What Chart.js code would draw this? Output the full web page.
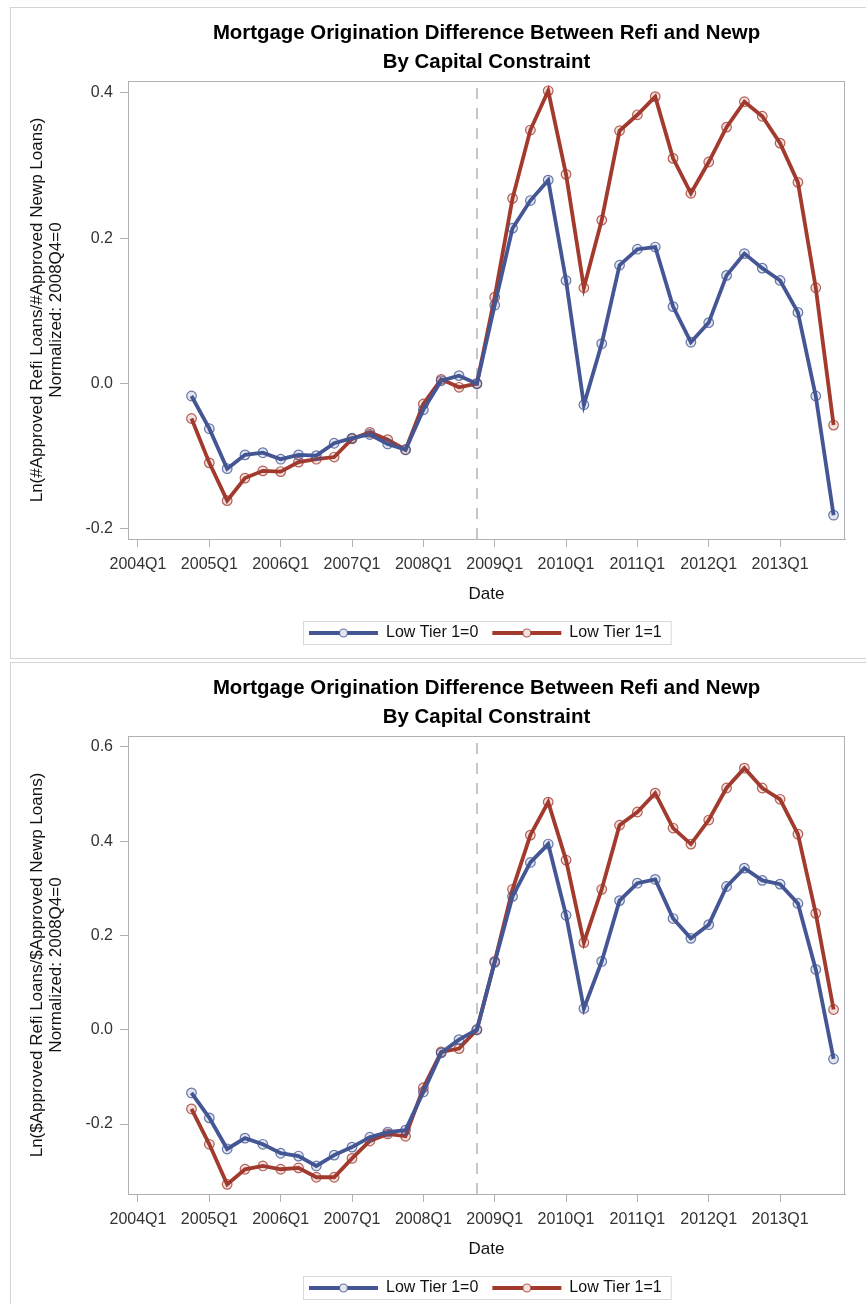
<!DOCTYPE html>
<html>
<head>
<meta charset="utf-8">
<title>Mortgage Origination Difference Between Refi and Newp</title>
<script src="https://cdn.jsdelivr.net/npm/chart.js@4.4.1/dist/chart.umd.min.js"></script>
<style>
  html, body { margin: 0; padding: 0; background: #fff; overflow: hidden; width: 866px; height: 1304px; }
  .panel { position: absolute; left: 10px; width: 880px; border: 1px solid #d4d4d4; box-sizing: border-box; }
  #p1 { top: 7px; height: 652px; }
  #p2 { top: 662px; height: 700px; }
  canvas { position: absolute; left: 0; }
  #c1 { top: 0; }
  #c2 { top: 655px; }
</style>
</head>
<body>
<div class="panel" id="p1"></div>
<div class="panel" id="p2"></div>
<canvas id="c1" width="866" height="658"></canvas>
<canvas id="c2" width="866" height="649"></canvas>
<script>
// ---- data -----------------------------------------------------------
const quarters = [
  '2004Q4',
  '2005Q1','2005Q2','2005Q3','2005Q4',
  '2006Q1','2006Q2','2006Q3','2006Q4',
  '2007Q1','2007Q2','2007Q3','2007Q4',
  '2008Q1','2008Q2','2008Q3','2008Q4',
  '2009Q1','2009Q2','2009Q3','2009Q4',
  '2010Q1','2010Q2','2010Q3','2010Q4',
  '2011Q1','2011Q2','2011Q3','2011Q4',
  '2012Q1','2012Q2','2012Q3','2012Q4',
  '2013Q1','2013Q2','2013Q3','2013Q4'
];

const seriesNames = ['Low Tier 1=0', 'Low Tier 1=1'];

// Ln(#Approved Refi Loans / #Approved Newp Loans), normalized 2008Q4 = 0
const countTier0 = [
  -0.017, -0.062, -0.117, -0.098, -0.095, -0.104, -0.098, -0.099, -0.082,
  -0.075, -0.070, -0.083, -0.091, -0.036, 0.004, 0.011, 0.000,
  0.108, 0.214, 0.252, 0.280, 0.142, -0.029, 0.055, 0.163,
  0.185, 0.188, 0.106, 0.057, 0.084, 0.149, 0.179, 0.159,
  0.142, 0.098, -0.017, -0.181
];
const countTier1 = [
  -0.048, -0.109, -0.161, -0.130, -0.120, -0.121, -0.108, -0.104, -0.101,
  -0.076, -0.067, -0.077, -0.091, -0.028, 0.006, -0.005, 0.000,
  0.119, 0.255, 0.349, 0.403, 0.288, 0.132, 0.225, 0.348,
  0.370, 0.395, 0.310, 0.262, 0.305, 0.353, 0.388, 0.368,
  0.331, 0.277, 0.132, -0.057
];

// Ln($Approved Refi Loans / $Approved Newp Loans), normalized 2008Q4 = 0
const dollarTier0 = [
  -0.134, -0.187, -0.253, -0.230, -0.243, -0.262, -0.268, -0.289, -0.266,
  -0.249, -0.228, -0.217, -0.213, -0.132, -0.049, -0.021, 0.000,
  0.143, 0.283, 0.355, 0.394, 0.243, 0.045, 0.145, 0.274,
  0.311, 0.319, 0.236, 0.194, 0.223, 0.304, 0.343, 0.317,
  0.309, 0.268, 0.128, -0.062
];
const dollarTier1 = [
  -0.168, -0.243, -0.328, -0.296, -0.289, -0.296, -0.293, -0.313, -0.313,
  -0.273, -0.236, -0.221, -0.226, -0.123, -0.047, -0.040, 0.000,
  0.145, 0.298, 0.413, 0.483, 0.360, 0.185, 0.298, 0.434,
  0.462, 0.502, 0.428, 0.394, 0.445, 0.513, 0.555, 0.513,
  0.489, 0.415, 0.247, 0.043
];

const xTickLabels = ['2004Q1','2005Q1','2006Q1','2007Q1','2008Q1','2009Q1','2010Q1','2011Q1','2012Q1','2013Q1'];
const yTicksCount = [-0.2, 0.0, 0.2, 0.4];
const yTicksDollar = [-0.2, 0.0, 0.2, 0.4, 0.6];
const normalizedQuarter = '2008Q4';

const titleLines = ['Mortgage Origination Difference Between Refi and Newp', 'By Capital Constraint'];
const yTitleCount = ['Ln(#Approved Refi Loans/#Approved Newp Loans)', 'Normalized: 2008Q4=0'];
const yTitleDollar = ['Ln($Approved Refi Loans/$Approved Newp Loans)', 'Normalized: 2008Q4=0'];
const xTitle = 'Date';

// ---- helpers --------------------------------------------------------
const FONT = '"Liberation Sans", Arial, Helvetica, sans-serif';
const COLORS = [
  { line: '#445694', point: 'rgba(68,86,148,0.8)', fill: 'rgba(68,86,148,0.15)' },
  { line: '#A23A2E', point: 'rgba(162,58,46,0.8)', fill: 'rgba(162,58,46,0.15)' }
];
const AXIS_COLOR = '#aeb2b6';

// quarter string -> position on the time axis (2004Q1 = 0)
function qIndex(q) {
  const year = parseInt(q.slice(0, 4), 10);
  const qq = parseInt(q.slice(5), 10);
  return (year - 2004) * 4 + (qq - 1);
}

Chart.defaults.font.family = FONT;
Chart.defaults.color = '#333';

// frame, normalization line, two-line title and boxed legend
const panelDecor = {
  id: 'panelDecor',
  beforeDatasetsDraw(chart, args, opts) {
    const { ctx, chartArea: a, scales: { x } } = chart;
    const rx = Math.round(x.getPixelForValue(qIndex(opts.refQuarter)));
    ctx.save();
    ctx.strokeStyle = '#c6c6c6';
    ctx.lineWidth = 2;
    ctx.setLineDash([11, 9]);
    ctx.beginPath();
    ctx.moveTo(rx, a.bottom);
    ctx.lineTo(rx, a.top);
    ctx.stroke();
    ctx.restore();
  },
  afterDraw(chart, args, opts) {
    const { ctx, chartArea: a } = chart;
    ctx.save();
    // plot wall frame
    ctx.strokeStyle = AXIS_COLOR;
    ctx.lineWidth = 1;
    ctx.strokeRect(Math.round(a.left) + 0.5, Math.round(a.top) + 0.5,
                   Math.round(a.right - a.left) - 1, Math.round(a.bottom - a.top));
    // title
    const cx = (a.left + a.right) / 2;
    ctx.fillStyle = '#000';
    ctx.font = 'bold 20.4px ' + FONT;
    ctx.textAlign = 'center';
    ctx.textBaseline = 'middle';
    opts.title.forEach((t, i) => ctx.fillText(t, cx, opts.titleY + i * opts.titleGap));
    // legend
    ctx.font = '16px ' + FONT;
    const ds = chart.data.datasets;
    const lineLen = 69, pad = 6, gapTxt = 8, gapItem = 14, padR = 9;
    let w = pad + padR;
    const tw = ds.map(d => ctx.measureText(d.label).width);
    ds.forEach((d, i) => { w += lineLen + gapTxt + tw[i] + (i < ds.length - 1 ? gapItem : 0); });
    const bh = 23;
    const bx = Math.round(cx - w / 2);
    const by = Math.round(opts.legendY - bh / 2);
    ctx.strokeStyle = '#d8d8d8';
    ctx.strokeRect(bx + 0.5, by + 0.5, w, bh);
    let px = bx + pad;
    ds.forEach((d, i) => {
      ctx.strokeStyle = d.borderColor;
      ctx.lineWidth = 3.8;
      ctx.beginPath();
      ctx.moveTo(px, opts.legendY + 1);
      ctx.lineTo(px + lineLen, opts.legendY + 1);
      ctx.stroke();
      ctx.beginPath();
      ctx.arc(px + lineLen / 2, opts.legendY + 1, 4, 0, Math.PI * 2);
      ctx.fillStyle = '#fff';
      ctx.fill();
      ctx.fillStyle = d.pointBackgroundColor;
      ctx.fill();
      ctx.lineWidth = 1.2;
      ctx.strokeStyle = d.pointBorderColor;
      ctx.stroke();
      ctx.fillStyle = '#111';
      ctx.textAlign = 'left';
      ctx.fillText(d.label, px + lineLen + gapTxt, opts.legendY + 1);
      px += lineLen + gapTxt + tw[i] + gapItem;
    });
    ctx.restore();
  }
};

function makeChart(canvasId, seriesList, yTicks, yMin, yMax, yTitle) {
  const canvas = document.getElementById(canvasId);
  const H = canvas.height;
  const X_AXIS_H = 66;
  const PAD_LEFT = 27.5;
  const tickLabelFor = {};
  xTickLabels.forEach(l => { tickLabelFor[qIndex(l)] = l; });

  const datasets = seriesList.map((vals, i) => ({
    label: seriesNames[i],
    data: quarters.map((q, k) => ({ x: qIndex(q), y: vals[k] })),
    borderColor: COLORS[i].line,
    borderWidth: 3.8,
    pointRadius: 4.8,
    pointBorderWidth: 1.2,
    pointBorderColor: COLORS[i].point,
    pointBackgroundColor: COLORS[i].fill,
    tension: 0,
    fill: false
  }));

  return new Chart(canvas, {
    type: 'line',
    data: { datasets },
    plugins: [panelDecor],
    options: {
      responsive: false,
      animation: false,
      layout: { padding: { left: PAD_LEFT, right: 21, top: 81, bottom: H - 539 - X_AXIS_H } },
      plugins: {
        legend: { display: false },
        title: { display: false },
        tooltip: { enabled: false },
        panelDecor: { title: titleLines, titleY: 33.5, titleGap: 29, legendY: 632, refQuarter: normalizedQuarter }
      },
      scales: {
        x: {
          type: 'linear',
          min: -0.56,
          max: 39.64,
          afterBuildTicks: s => { s.ticks = xTickLabels.map(l => ({ value: qIndex(l) })); },
          afterFit: s => { s.height = X_AXIS_H; },
          ticks: {
            callback: v => tickLabelFor[v] || '',
            font: { size: 16 },
            color: '#333',
            padding: 8,
            maxRotation: 0,
            autoSkip: false
          },
          grid: { display: true, drawOnChartArea: false, drawTicks: true, tickLength: 8, color: AXIS_COLOR },
          border: { display: true, color: AXIS_COLOR },
          title: { display: true, text: xTitle, font: { size: 17 }, color: '#111', padding: { top: 0, bottom: 0 } }
        },
        y: {
          type: 'linear',
          min: yMin,
          max: yMax,
          afterBuildTicks: s => { s.ticks = yTicks.map(v => ({ value: v })); },
          afterFit: s => { s.width = 128 - PAD_LEFT; },
          ticks: {
            callback: v => v.toFixed(1),
            font: { size: 16 },
            color: '#333',
            padding: 7
          },
          grid: { display: true, drawOnChartArea: false, drawTicks: true, tickLength: 8, color: AXIS_COLOR },
          border: { display: true, color: AXIS_COLOR },
          title: { display: true, text: yTitle, font: { size: 17, lineHeight: 19 / 17 }, color: '#111', padding: { top: 0, bottom: 0 } }
        }
      }
    }
  });
}

makeChart('c1', [countTier0, countTier1], yTicksCount, -0.2138, 0.4165, yTitleCount);
makeChart('c2', [dollarTier0, dollarTier1], yTicksDollar, -0.3485, 0.6233, yTitleDollar);
</script>
</body>
</html>
